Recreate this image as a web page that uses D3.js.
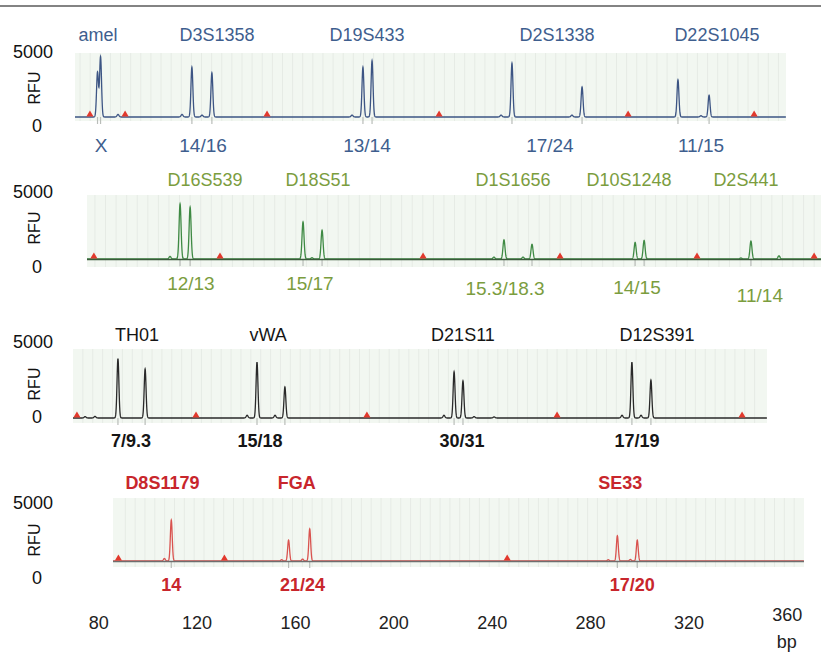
<!DOCTYPE html>
<html>
<head>
<meta charset="utf-8">
<script src="https://cdnjs.cloudflare.com/ajax/libs/d3/7.8.5/d3.min.js"></script>
<style>
  body { margin: 0; background: #fff; }
  text { font-family: "Liberation Sans", Arial, sans-serif; }
</style>
</head>
<body>
<div id="chart"></div>
<script>
// blue dye
var blueLoci = ["amel", "D3S1358", "D19S433", "D2S1338", "D22S1045"];
var blueLociBp = [95.1, 142.1, 201.4, 276.5, 339.7];
var blueAlleles = ["X", "14/16", "13/14", "17/24", "11/15"];
var blueAlleleBp = [96.3, 136.6, 201.4, 273.7, 333.4];
var bluePeakBp = [94.9, 96.1, 103.0, 128.3, 132.2, 136.2, 140.1, 195.5, 199.8, 203.4, 254.4, 258.7, 282.4, 286.4, 324.3, 333.4, 336.6];
var bluePeakRfu = [3500, 4700, 200, 200, 3900, 150, 3450, 150, 3900, 4400, 150, 4200, 150, 2350, 2900, 100, 1700];
var blueMarkerBp = [91.9, 105.8, 161.9, 229.9, 304.6, 354.4];

// green dye
var greenLoci = ["D16S539", "D18S51", "D1S1656", "D10S1248", "D2S441"];
var greenLociBp = [130.6, 173.4, 247.1, 291.0, 335.2];
var greenAlleles = ["12/13", "15/17", "15.3/18.3", "14/15", "11/14"];
var greenAlleleBp = [125.3, 170.3, 244.1, 294.0, 340.5];
var greenPeakBp = [117.4, 121.2, 125.0, 167.7, 171.1, 174.9, 239.9, 243.7, 250.9, 254.3, 293.3, 296.7, 333.3, 337.1, 347.7];
var greenPeakRfu = [200, 4300, 4050, 2900, 100, 2250, 150, 1500, 150, 1150, 1300, 1450, 80, 1400, 250];
var greenMarkerBp = [88.6, 136.3, 213.1, 264.9, 316.7, 361.0];

// black dye
var blackLoci = ["TH01", "vWA", "D21S11", "D12S391"];
var blackLociBp = [111.9, 165.0, 243.9, 322.5];
var blackAlleles = ["7/9.3", "15/18", "30/31", "17/19"];
var blackAlleleBp = [109.5, 161.7, 243.5, 314.4];
var blackPeakBp = [90.9, 94.9, 104.2, 115.2, 156.5, 160.5, 167.8, 171.8, 236.2, 240.3, 243.9, 248.4, 256.5, 308.3, 312.3, 316.0, 320.0];
var blackPeakRfu = [100, 120, 4300, 3550, 200, 4050, 200, 2250, 200, 3350, 2700, 100, 80, 200, 4050, 200, 2750];
var blackMarkerBp = [87.6, 135.8, 205.0, 282.0, 356.9];

// red dye
var redLoci = ["D8S1179", "FGA", "SE33"];
var redLociBp = [106.1, 160.7, 292.3];
var redAlleles = ["14", "21/24", "17/20"];
var redAlleleBp = [109.7, 163.1, 297.2];
var redPeakBp = [106.9, 109.7, 154.6, 157.4, 163.1, 166.0, 287.4, 291.1, 296.4, 299.2];
var redPeakRfu = [200, 3250, 100, 1650, 150, 2550, 100, 2000, 120, 1650];
var redMarkerBp = [88.2, 131.3, 246.3];

var xTicks = [80, 120, 160, 200, 240, 280, 320, 360];
var yTicks = [0, 5000];

var panels = [
    {loci: blueLoci, lociBp: blueLociBp, alleles: blueAlleles, alleleBp: blueAlleleBp,
     peakBp: bluePeakBp, peakRfu: bluePeakRfu, markers: blueMarkerBp,
     trace: "#3d5584", baseColor: null, text: "#3e5e8e", top: 53, base: 117, bgBottom: 121, left: 75, right: 786,
     nameY: 35, alleleY: 145, alleleDy: [0, 0, 0, 0, 0], tickY: [126, 52], rfuY: 88, bold: false},
    {loci: greenLoci, lociBp: greenLociBp, alleles: greenAlleles, alleleBp: greenAlleleBp,
     peakBp: greenPeakBp, peakRfu: greenPeakRfu, markers: greenMarkerBp,
     trace: "#3f8a44", baseColor: "#3b5a3b", text: "#7b9d3e", top: 195, base: 259, bgBottom: 267, left: 87, right: 830,
     nameY: 180, alleleY: 283, alleleDy: [0, 0, 5, 4, 12], tickY: [267, 192], rfuY: 228, bold: false},
    {loci: blackLoci, lociBp: blackLociBp, alleles: blackAlleles, alleleBp: blackAlleleBp,
     peakBp: blackPeakBp, peakRfu: blackPeakRfu, markers: blackMarkerBp,
     trace: "#2a2a2a", baseColor: null, text: "#151515", top: 349, base: 418, bgBottom: 423, left: 73, right: 767,
     nameY: 335, alleleY: 441, alleleDy: [0, 0, 0, 0], tickY: [417, 342], rfuY: 384, bold: true},
    {loci: redLoci, lociBp: redLociBp, alleles: redAlleles, alleleBp: redAlleleBp,
     peakBp: redPeakBp, peakRfu: redPeakRfu, markers: redMarkerBp,
     trace: "#d9534f", baseColor: "#6e6e6e", text: "#c8262c", top: 498, base: 561, bgBottom: 567, left: 113, right: 804,
     nameY: 483, alleleY: 585, alleleDy: [0, 0, 0], tickY: [578, 503], rfuY: 540, bold: true}
];

var width = 821, height = 653;
var sigma = 0.38;

var svg = d3.select("#chart").append("svg")
    .attr("width", width)
    .attr("height", height);

svg.append("line")
    .attr("x1", 0).attr("x2", width)
    .attr("y1", 6).attr("y2", 6)
    .attr("stroke", "#5a5a5a").attr("stroke-width", 1.5);

var lastX;

panels.forEach(function (p, pi) {
    var x = d3.scaleLinear().domain([86, 367]).range([p.left, p.right]);
    var y = d3.scaleLinear().domain([0, 5000]).range([p.base, p.top]);
    lastX = x;

    var g = svg.append("g").attr("class", "panel");

    // background + bins
    g.append("rect")
        .attr("x", p.left).attr("y", p.top)
        .attr("width", p.right - p.left).attr("height", p.bgBottom - p.top)
        .attr("fill", "#f2f7f1");

    g.selectAll(".bin")
        .data(d3.range(88 + pi, 366, 4))
        .enter().append("line")
        .attr("class", "bin")
        .attr("x1", function (d) { return x(d); })
        .attr("x2", function (d) { return x(d); })
        .attr("y1", p.top).attr("y2", p.bgBottom)
        .attr("stroke", "#e6ebe5").attr("stroke-width", 1);

    // allele call ticks under baseline
    g.selectAll(".call")
        .data(p.peakBp.filter(function (d, i) { return p.peakRfu[i] > 1000; }))
        .enter().append("line")
        .attr("class", "call")
        .attr("x1", function (d) { return x(d); })
        .attr("x2", function (d) { return x(d); })
        .attr("y1", p.base).attr("y2", p.base + 7)
        .attr("stroke", "#b9bdb9").attr("stroke-width", 1.2);

    // trace
    var samples = d3.range(86, 367, 0.05).map(function (b) {
        var v = 0;
        for (var i = 0; i < p.peakBp.length; i++) {
            var z = (b - p.peakBp[i]) / sigma;
            v += p.peakRfu[i] * Math.exp(-0.5 * z * z);
        }
        return [b, v];
    });

    g.append("path")
        .datum(samples)
        .attr("fill", "none")
        .attr("stroke", p.trace)
        .attr("stroke-width", 1.3)
        .attr("d", d3.line()
            .x(function (d) { return x(d[0]); })
            .y(function (d) { return y(d[1]); }));

    if (p.baseColor) {
        g.append("line")
            .attr("x1", p.left).attr("x2", p.right)
            .attr("y1", y(0) + 0.5).attr("y2", y(0) + 0.5)
            .attr("stroke", p.baseColor).attr("stroke-width", 1.5);
    }

    // size standard markers
    g.selectAll(".marker")
        .data(p.markers)
        .enter().append("path")
        .attr("class", "marker")
        .attr("d", d3.symbol().type(d3.symbolTriangle).size(22))
        .attr("transform", function (d) { return "translate(" + x(d) + "," + (p.base - 2.5) + ")"; })
        .attr("fill", "#e2392d");

    // locus names
    g.selectAll(".locus")
        .data(p.loci)
        .enter().append("text")
        .attr("class", "locus")
        .attr("x", function (d, i) { return x(p.lociBp[i]); })
        .attr("y", p.nameY)
        .attr("dy", "0.35em")
        .attr("text-anchor", "middle")
        .attr("fill", p.text)
        .style("font-size", "18px")
        .style("font-weight", pi == 3 ? "bold" : "normal")
        .text(function (d) { return d; });

    // allele calls
    g.selectAll(".allele")
        .data(p.alleles)
        .enter().append("text")
        .attr("class", "allele")
        .attr("x", function (d, i) { return x(p.alleleBp[i]); })
        .attr("y", function (d, i) { return p.alleleY + p.alleleDy[i]; })
        .attr("dy", "0.35em")
        .attr("text-anchor", "middle")
        .attr("fill", p.text)
        .style("font-size", p.bold ? "18px" : "19px")
        .style("font-weight", p.bold ? "bold" : "normal")
        .text(function (d) { return d; });

    // y labels
    g.selectAll(".ytick")
        .data(yTicks)
        .enter().append("text")
        .attr("class", "ytick")
        .attr("x", function (d) { return d == 0 ? 37 : 53; })
        .attr("y", function (d, i) { return p.tickY[i]; })
        .attr("dy", "0.35em")
        .attr("text-anchor", function (d) { return d == 0 ? "middle" : "end"; })
        .attr("fill", "#111")
        .style("font-size", "18px")
        .text(function (d) { return d; });

    g.append("text")
        .attr("transform", "translate(34," + p.rfuY + ") rotate(-90)")
        .attr("dy", "0.35em")
        .attr("text-anchor", "middle")
        .attr("fill", "#111")
        .style("font-size", "16px")
        .text("RFU");
});

// bottom bp axis, uses the red panel scale
var axis = svg.append("g")
    .attr("transform", "translate(0,623)")
    .call(d3.axisBottom(lastX).tickValues(xTicks).tickSize(0).tickPadding(0));

axis.select(".domain").remove();
axis.selectAll("text")
    .attr("y", 0)
    .attr("dy", "0.35em")
    .attr("fill", "#222")
    .style("font-size", "18px")
    .style("font-family", "'Liberation Sans', Arial, sans-serif")
    .filter(function (d) { return d == 360; })
    .attr("y", -8);

axis.append("text")
    .attr("x", lastX(360))
    .attr("y", 19)
    .attr("dy", "0.35em")
    .attr("text-anchor", "middle")
    .attr("fill", "#222")
    .style("font-size", "18px")
    .style("font-family", "'Liberation Sans', Arial, sans-serif")
    .text("bp");
</script>
</body>
</html>
